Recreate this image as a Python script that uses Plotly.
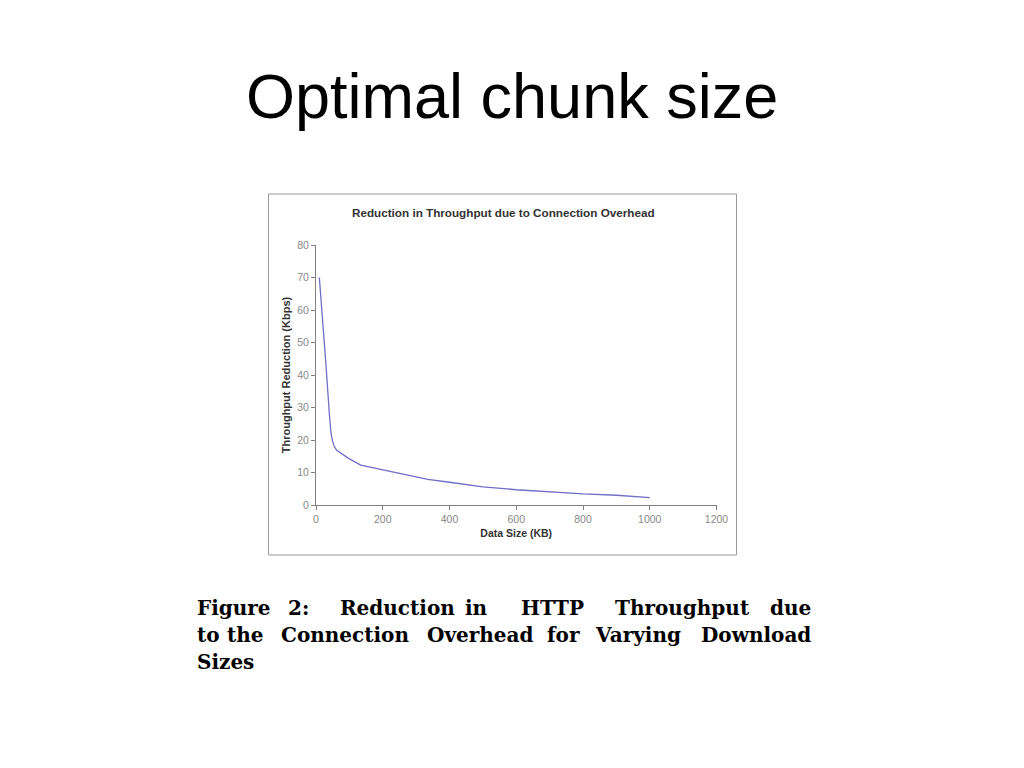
import plotly.graph_objects as go

# Data
data_size_kb = [10, 20, 30, 40, 45, 50, 55, 62, 80, 100, 134, 170, 200, 268, 335, 400, 450, 500, 600, 700, 800, 900, 1000]
throughput_reduction = [70, 57, 43, 28, 22, 19.5, 18, 16.8, 15.5, 14.2, 12.3, 11.5, 10.8, 9.4, 7.9, 7.0, 6.2, 5.6, 4.7, 4.0, 3.4, 3.0, 2.3]

x_ticks = [0, 200, 400, 600, 800, 1000, 1200]
y_ticks = [0, 10, 20, 30, 40, 50, 60, 70, 80]

caption_lines = [
    ["Figure", "2:", "Reduction", "in", "HTTP", "Throughput", "due"],
    ["to", "the", "Connection", "Overhead", "for", "Varying", "Download"],
    ["Sizes"],
]

W, H = 1024, 768

def px(x):
    return x / W

def py(y):
    return 1 - y / H

fig = go.Figure()
fig.add_trace(go.Scatter(
    x=data_size_kb, y=throughput_reduction, mode="lines",
    line=dict(color="#6f6fc8", width=1.3), showlegend=False, hoverinfo="x+y",
))

axis_common = dict(
    showgrid=False, zeroline=False, showline=True, linecolor="#808080", linewidth=1,
    ticks="outside", ticklen=4, tickcolor="#808080", automargin=False,
    tickfont=dict(family="Liberation Sans, Arial", size=10.5, color="#888888"),
)

fig.update_layout(
    width=W, height=H, autosize=False,
    margin=dict(l=0, r=0, t=0, b=0, pad=0, autoexpand=False),
    paper_bgcolor="white", plot_bgcolor="white",
    xaxis=dict(
        domain=[px(316), px(716.5)], range=[0, 1200], tickvals=x_ticks,
        anchor="y",
        title=dict(text="<b>Data Size (KB)</b>", standoff=6,
                   font=dict(family="Liberation Sans, Arial", size=10.5, color="#333333")),
        **axis_common,
    ),
    yaxis=dict(
        domain=[py(505), py(245)], range=[0, 80], tickvals=y_ticks,
        anchor="x",
        title=dict(text="<b>Throughput Reduction (Kbps)</b>", standoff=4,
                   font=dict(family="Liberation Sans, Arial", size=11, color="#333333")),
        **axis_common,
    ),
)

# Chart frame
fig.add_shape(type="rect", xref="paper", yref="paper",
              x0=px(268.5), x1=px(736.5), y0=py(555), y1=py(194),
              line=dict(color="#9a9a9a", width=1), fillcolor="rgba(0,0,0,0)", layer="below")

# Slide title
fig.add_annotation(text="Optimal chunk size", xref="paper", yref="paper",
                   x=px(512), y=py(96), xanchor="center", yanchor="middle", showarrow=False,
                   font=dict(family="Liberation Sans, Arial", size=63, color="black"))

# Chart title
fig.add_annotation(text="<b>Reduction in Throughput due to Connection Overhead</b>", xref="paper", yref="paper",
                   x=px(503), y=py(212), xanchor="center", yanchor="middle", showarrow=False,
                   font=dict(family="Liberation Sans, Arial", size=11.7, color="#333333"))

# Caption, justified word by word (word centres in pixels)
cap_font = dict(family="DejaVu Serif", size=20, color="black")
word_centres = [
    [231, 298, 397, 476, 552, 682, 792],
    [206, 245, 345, 480, 563, 638, 755],
    [224],
]
line_y = [608, 635, 662]
for words, centres, yy in zip(caption_lines, word_centres, line_y):
    for i, (w, cx) in enumerate(zip(words, centres)):
        if i == 0:
            anchor, xx = "left", 195
        elif i == len(words) - 1:
            anchor, xx = "right", 813
        else:
            anchor, xx = "center", cx
        fig.add_annotation(text="<b>" + w + "</b>", xref="paper", yref="paper", x=px(xx), y=py(yy),
                           xanchor=anchor, yanchor="middle", showarrow=False, font=cap_font)

fig.write_html(
    "out.html",
    config={"displayModeBar": False},
    post_script="document.body.style.margin='0';document.body.style.overflow='hidden';",
)
